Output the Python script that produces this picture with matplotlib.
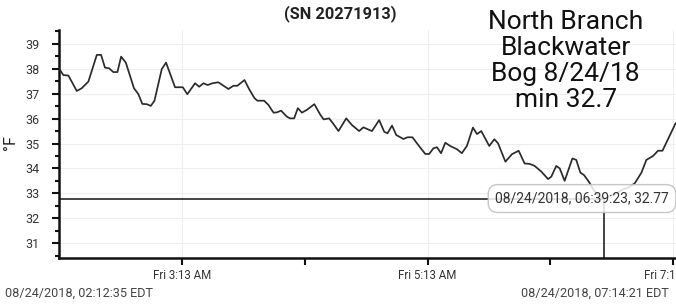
import matplotlib
matplotlib.use("Agg")
import matplotlib.pyplot as plt
from matplotlib.ticker import MultipleLocator
from datetime import datetime, timedelta

plt.rcParams["font.family"] = ["Roboto", "DejaVu Sans"]

start = datetime(2018, 8, 24, 2, 12, 35)
end = datetime(2018, 8, 24, 7, 14, 21)

# minutes after the first reading, and temperature in °F
minutes = [
    0, 2.1, 4.6, 8.7, 11.1, 14.4, 18.5, 20.6, 22.5, 24.5, 26.6, 28.6, 30.4, 32.7,
    36.7, 38.8, 40.8, 43.0, 44.9, 46.7, 50.3, 52.4, 56.8, 60.6, 62.8, 66.6, 68.6,
    70.7, 72.8, 75.1, 78.0, 82.9, 85.4, 87.3, 90.8, 93.1, 95.7, 97.1, 100.4, 102.5,
    105.0, 106.6, 108.7, 111.5, 113.1, 115.1, 116.9, 118.9, 121.3, 125.0, 127.8,
    129.5, 132.2, 134.1, 136.8, 140.6, 143.4, 146.9, 149.0, 152.0, 153.2, 156.7,
    159.2, 160.8, 163.0, 165.1, 168.6, 170.6, 173.0, 176.5, 179.3, 181.2, 183.3,
    185.0, 187.0, 189.1, 191.5, 194.8, 197.2, 199.7, 202.6, 204.6, 206.7, 210.6,
    213.1, 214.9, 218.5, 221.7, 225.0, 227.9, 230.4, 232.8, 236.1, 239.4, 241.0,
    243.4, 245.1, 247.5, 251.3, 253.2, 255.2, 257.0, 259.4, 261.7, 263.8, 266.8,
    269.5, 272.8, 276.1, 278.5, 281.8, 285.1, 287.5, 290.8, 293.2, 295.4, 301.8,
]
temp_f = [
    38.02, 37.75, 37.73, 37.11, 37.22, 37.49, 38.56, 38.56, 38.05, 38.02, 37.87,
    37.87, 38.49, 38.25, 37.22, 36.99, 36.59, 36.58, 36.51, 36.71, 37.99, 38.25,
    37.26, 37.26, 36.98, 37.42, 37.28, 37.42, 37.35, 37.42, 37.46, 37.19, 37.32,
    37.32, 37.55, 37.18, 36.82, 36.72, 36.72, 36.55, 36.24, 36.25, 36.32, 36.08,
    36.01, 36.01, 36.42, 36.24, 36.35, 36.58, 36.17, 35.97, 36.01, 35.81, 35.50,
    36.01, 35.74, 35.50, 35.65, 35.54, 35.50, 35.94, 35.47, 35.41, 35.72, 35.34,
    35.18, 35.25, 35.25, 34.87, 34.58, 34.58, 34.81, 34.85, 34.61, 35.03, 34.90,
    34.77, 34.61, 34.91, 35.64, 35.38, 35.50, 34.90, 35.17, 35.01, 34.27, 34.57,
    34.71, 34.20, 34.18, 34.10, 33.87, 33.57, 33.67, 34.10, 34.00, 33.50, 34.40,
    34.34, 33.83, 33.73, 33.46, 33.13, 32.93, 32.77, 32.90, 33.00, 33.16, 33.22,
    33.40, 33.83, 34.34, 34.50, 34.71, 34.71, 35.81,
]

min_time = datetime(2018, 8, 24, 6, 39, 23)
min_value = 32.77

major_ticks = [datetime(2018, 8, 24, h, 13) for h in (3, 5, 7)]
major_labels = ["Fri 3:13 AM", "Fri 5:13 AM", "Fri 7:13 AM"]
minor_ticks = [datetime(2018, 8, 24, h, 13) for h in (4, 6)]

times = [start + timedelta(minutes=m) for m in minutes]

fig = plt.figure(figsize=(6.76, 3.05), dpi=100)
ax = fig.add_axes([59 / 676, 47 / 305, (675.5 - 59) / 676, 228 / 305])

ax.plot(times, temp_f, color="#2b2b2b", linewidth=1.25, zorder=3)

ax.set_xlim(start, end)
ax.set_ylim(30.4, 39.56)

ax.yaxis.set_major_locator(MultipleLocator(1))
ax.yaxis.set_minor_locator(MultipleLocator(0.5))
ax.set_xticks(major_ticks)
ax.set_xticklabels(major_labels)
ax.set_xticks(minor_ticks, minor=True)

for side in ("top", "right"):
    ax.spines[side].set_visible(False)
for side in ("left", "bottom"):
    ax.spines[side].set_linewidth(1.8)
    ax.spines[side].set_color("#111111")

ax.tick_params(axis="both", which="major", direction="out", length=5, width=1.5,
               color="#111111", labelcolor="#333333")
ax.tick_params(axis="y", which="minor", direction="out", length=3, width=1.5,
               color="#111111")
ax.tick_params(axis="x", which="minor", direction="out", length=5, width=1.5,
               color="#111111")
ax.tick_params(axis="y", labelsize=9, pad=9)
ax.tick_params(axis="x", labelsize=8.3, pad=3)

ax.set_axisbelow(True)
ax.grid(True, which="major", color="#eeeeee", linewidth=0.8)

ax.set_ylabel("°F", fontsize=11.5, color="#222222")
ax.yaxis.set_label_coords(-0.066, 0.505)

# crosshair at the minimum reading
ax.plot([start, min_time], [min_value, min_value], color="#111111", linewidth=1.1, zorder=2)
ax.plot([min_time, min_time], [30.4, min_value], color="#111111", linewidth=1.1, zorder=6)

fig.text(0.861, 0.349, "08/24/2018, 06:39:23, 32.77", ha="center", va="center",
         fontsize=10, color="#333333", zorder=5,
         bbox=dict(boxstyle="round,pad=0.5,rounding_size=0.7", facecolor="white",
                   edgecolor="#bdbdbd", linewidth=1.0, alpha=0.85))

fig.text(0.503, 0.954, "(SN 20271913)", ha="center", va="center",
         fontsize=11.8, fontweight="bold", color="#222222")
fig.text(0.837, 0.80, "North Branch\nBlackwater\nBog 8/24/18\nmin 32.7",
         ha="center", va="center", fontsize=19, linespacing=1.12, color="#111111")

fig.text(0.008, 0.037, "08/24/2018, 02:12:35 EDT", ha="left", va="center",
         fontsize=9.1, color="#444444")
fig.text(0.99, 0.037, "08/24/2018, 07:14:21 EDT", ha="right", va="center",
         fontsize=9.1, color="#444444")

fig.savefig("out.png", dpi=100)
